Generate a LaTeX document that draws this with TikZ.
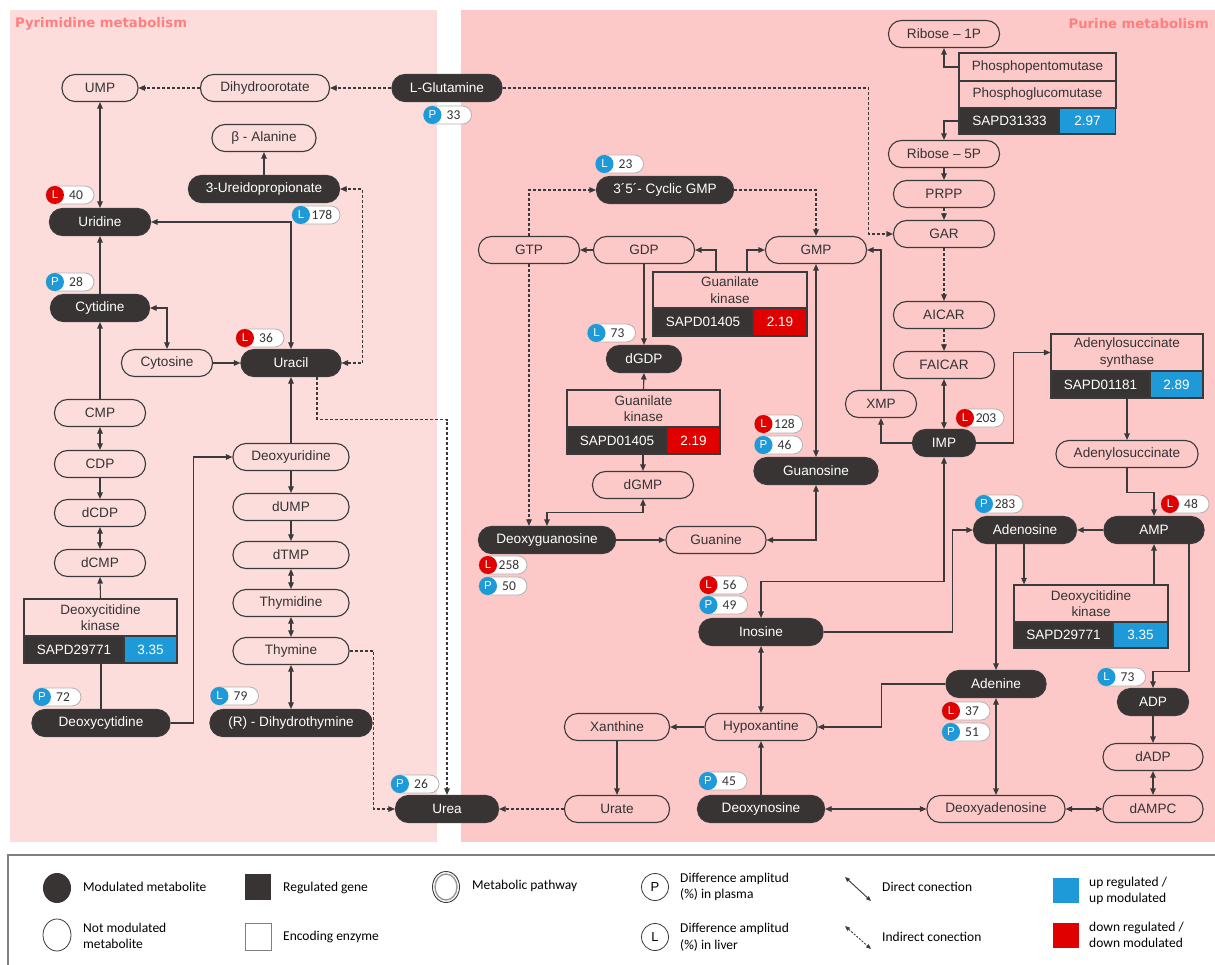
\documentclass[tikz,border=0pt]{standalone}
\usepackage{fontspec}
\setmainfont{Liberation Sans}
\newfontfamily\calfont{Carlito}
\newfontfamily\ttlfont{DejaVu Sans}
\usetikzlibrary{arrows.meta,calc,shapes.geometric}
\definecolor{bgL}{HTML}{FDDCDC}
\definecolor{bgR}{HTML}{FDC8C8}
\definecolor{ttl}{HTML}{FF7F7F}
\definecolor{dk}{HTML}{383434}
\definecolor{ln}{HTML}{3A3A3A}
\definecolor{upb}{HTML}{1E9AD8}
\definecolor{dnr}{HTML}{E00000}
\definecolor{txt}{HTML}{333333}
\newcommand\mybadge[6]{%
  \node[bdg] (#1) at (#2,#3) {};
  \node[bdgc, fill=#5] (#1c) at ({#2-15},#3) {#4};
  \node[bdgn] (#1n) at ({#2+6},#3) {#6};
}
\begin{document}
\begin{tikzpicture}[x=1pt,y=-1pt,
  met/.style={draw=ln, line width=1.1pt, rounded corners=13pt, minimum height=27pt, inner sep=0pt, text=txt, font=\fontsize{13.6}{15}\selectfont},
  lmet/.style={met},
  dmet/.style={met, fill=dk, text=white},
  enzt/.style={draw=ln, line width=1.1pt, inner sep=0pt, align=center, text=txt, font=\fontsize{13.5}{16.5}\selectfont},
  geneg/.style={draw=ln, line width=1.1pt, fill=dk, inner sep=0pt, text=white, font=\fontsize{13.5}{15}\selectfont},
  con/.style={draw=ln, line width=1.1pt},
  cArr/.style={con, -{Triangle[length=6.5pt,width=5.5pt]}},
  cDbl/.style={con, {Triangle[length=6.5pt,width=5.5pt]}-{Triangle[length=6.5pt,width=5.5pt]}},
  cDash/.style={cArr, dash pattern=on 3pt off 2pt},
  cDashDbl/.style={cDbl, dash pattern=on 3pt off 2pt},
  bdg/.style={draw=gray!60, fill=white, line width=0.8pt, rounded corners=9pt, minimum width=48pt, minimum height=18pt, inner sep=0pt},
  bdgc/.style={circle, minimum size=18pt, inner sep=0pt, text=white, font=\fontsize{11.5}{12}\selectfont},
  bdgn/.style={font=\calfont\fontsize{13.5}{14}\selectfont, text=txt, inner sep=0pt},
  ttlstyle/.style={font=\ttlfont\bfseries\fontsize{13.2}{15}\selectfont, text=ttl, inner sep=0pt},
  legt/.style={font=\calfont\fontsize{13.5}{16.5}\selectfont, text=black, inner sep=0pt, anchor=west, align=left}
]
\fill[white] (0,0) rectangle (1215,965);
\useasboundingbox (0,0) rectangle (1215,965);
\fill[bgL] (10,10) rectangle (437,842);
\fill[bgR] (461,10) rectangle (1215,842);
\node[ttlstyle, anchor=west] (tPy) at (15,24) {Pyrimidine metabolism};
\node[ttlstyle, anchor=east] (tPu) at (1209,24) {Purine metabolism};

% ---------- Pyrimidine nodes
\node[lmet, minimum width=76pt] (UMP) at (100,88) {UMP};
\node[lmet, minimum width=129pt] (DHO) at (265,88) {Dihydroorotate};
\node[dmet, minimum width=110pt] (LGlu) at (447,88) {L-Glutamine};
\node[lmet, minimum width=104pt] (bAla) at (264,138) {β - Alanine};
\node[dmet, minimum width=151pt] (Ure) at (264,189) {3-Ureidopropionate};
\node[dmet, minimum width=101pt] (Urid) at (100,222) {Uridine};
\node[dmet, minimum width=99pt] (Cytd) at (100,308) {Cytidine};
\node[lmet, minimum width=91pt] (Cyto) at (167,363) {Cytosine};
\node[dmet, minimum width=100pt] (Urac) at (291,363) {Uracil};
\node[lmet, minimum width=91pt] (CMP) at (100,413) {CMP};
\node[lmet, minimum width=91pt] (CDP) at (100,464) {CDP};
\node[lmet, minimum width=91pt] (dCDP) at (100,513) {dCDP};
\node[lmet, minimum width=91pt] (dCMP) at (100,563) {dCMP};
\node[dmet, minimum width=138pt] (dCyd) at (101,723) {Deoxycytidine};
\node[lmet, minimum width=116pt] (dUrd) at (291,457) {Deoxyuridine};
\node[lmet, minimum width=116pt] (dUMP) at (291,507) {dUMP};
\node[lmet, minimum width=116pt] (dTMP) at (291,555) {dTMP};
\node[lmet, minimum width=116pt] (Thyd) at (291,603) {Thymidine};
\node[lmet, minimum width=116pt] (Thy) at (291,651) {Thymine};
\node[dmet, minimum width=162pt] (DHT) at (291,723) {(R) - Dihydrothymine};
\node[dmet, minimum width=103pt] (Urea) at (447,809) {Urea};

% enzyme 1
\node[enzt, minimum width=153pt, minimum height=37pt] (e1t) at (100.5,617.5) {Deoxycitidine\\kinase};
\node[geneg, minimum width=100pt, minimum height=27pt] (e1g) at (74,649.5) {SAPD29771};
\node[geneg, fill=upb, minimum width=53pt, minimum height=27pt] (e1v) at (150.5,649.5) {3.35};

% ---------- Purine nodes
\node[lmet, minimum width=111pt] (R1P) at (944,34) {Ribose – 1P};
\node[lmet, minimum width=111pt] (R5P) at (944,154) {Ribose – 5P};
\node[lmet, minimum width=101pt] (PRPP) at (944,194) {PRPP};
\node[lmet, minimum width=101pt] (GAR) at (944,234) {GAR};
\node[lmet, minimum width=101pt] (AICAR) at (944,315) {AICAR};
\node[lmet, minimum width=101pt] (FAICAR) at (944,365) {FAICAR};
\node[lmet, minimum width=71pt] (XMP) at (881,404) {XMP};
\node[dmet, minimum width=63pt] (IMP) at (944,443) {IMP};
\node[lmet, minimum width=142pt] (AdS) at (1127,454) {Adenylosuccinate};
\node[dmet, minimum width=137pt] (cGMP) at (665,190) {3´5´- Cyclic GMP};
\node[lmet, minimum width=101pt] (GTP) at (529,250) {GTP};
\node[lmet, minimum width=101pt] (GDP) at (644,250) {GDP};
\node[lmet, minimum width=101pt] (GMP) at (816,250) {GMP};
\node[dmet, minimum width=75pt] (dGDP) at (644,359) {dGDP};
\node[lmet, minimum width=101pt] (dGMP) at (643,485) {dGMP};
\node[dmet, minimum width=124pt] (Guo) at (816,471) {Guanosine};
\node[dmet, minimum width=137pt] (dGuo) at (547,540) {Deoxyguanosine};
\node[lmet, minimum width=100pt] (Gua) at (716,540) {Guanine};
\node[dmet, minimum width=124pt] (Ino) at (761,632) {Inosine};
\node[lmet, minimum width=105pt] (Xan) at (617,727) {Xanthine};
\node[lmet, minimum width=112pt] (Hyp) at (761,727) {Hypoxantine};
\node[lmet, minimum width=105pt] (Urate) at (617,809) {Urate};
\node[dmet, minimum width=127pt] (dIno) at (761,809) {Deoxynosine};
\node[dmet, minimum width=103pt] (Ado) at (1025,530) {Adenosine};
\node[dmet, minimum width=100pt] (AMP) at (1154,530) {AMP};
\node[dmet, minimum width=100pt] (Ade) at (996,684) {Adenine};
\node[dmet, minimum width=71pt] (ADP) at (1153,702) {ADP};
\node[lmet, minimum width=100pt] (dADP) at (1153,757) {dADP};
\node[lmet, minimum width=100pt] (dAMPC) at (1153,809) {dAMPC};
\node[lmet, minimum width=138pt] (dAdo) at (996,809) {Deoxyadenosine};

% enzyme 2
\node[enzt, minimum width=157pt, minimum height=28pt] (e2a) at (1037.5,67) {Phosphopentomutase};
\node[enzt, minimum width=157pt, minimum height=27pt] (e2b) at (1037.5,94.5) {Phosphoglucomutase};
\node[geneg, minimum width=101pt, minimum height=26pt] (e2g) at (1009.5,121) {SAPD31333};
\node[geneg, fill=upb, minimum width=56pt, minimum height=26pt] (e2v) at (1087.5,121) {2.97};
% enzyme 3
\node[enzt, minimum width=154pt, minimum height=36pt] (e3t) at (730,290) {Guanilate\\kinase};
\node[geneg, minimum width=100pt, minimum height=28pt] (e3g) at (703,322) {SAPD01405};
\node[geneg, fill=dnr, minimum width=54pt, minimum height=28pt] (e3v) at (780,322) {2.19};
% enzyme 4
\node[enzt, minimum width=153pt, minimum height=37pt] (e4t) at (643.5,408.5) {Guanilate\\kinase};
\node[geneg, minimum width=100pt, minimum height=27pt] (e4g) at (617,440.5) {SAPD01405};
\node[geneg, fill=dnr, minimum width=53pt, minimum height=27pt] (e4v) at (693.5,440.5) {2.19};
% enzyme 5
\node[enzt, minimum width=152pt, minimum height=37pt] (e5t) at (1127,352.5) {Adenylosuccinate\\synthase};
\node[geneg, minimum width=99pt, minimum height=27pt] (e5g) at (1100.5,384.5) {SAPD01181};
\node[geneg, fill=upb, minimum width=53pt, minimum height=27pt] (e5v) at (1176.5,384.5) {2.89};
% enzyme 6
\node[enzt, minimum width=154pt, minimum height=37pt] (e6t) at (1091,603.5) {Deoxycitidine\\kinase};
\node[geneg, minimum width=99pt, minimum height=26pt] (e6g) at (1063.5,635) {SAPD29771};
\node[geneg, fill=upb, minimum width=55pt, minimum height=26pt] (e6v) at (1140.5,635) {3.35};

% ---------- Pyrimidine connectors
\draw[cDash] (DHO.west) -- (UMP.east);
\draw[cDash] (LGlu.west) -- (DHO.east);
\draw[cDbl] (UMP.south) -- (Urid.north);
\draw[cArr] (Ure.north) -- (bAla.south);
\draw[cDashDbl] (Urac.east) -- ++(21,0) |- (Ure.east);
\draw[cDbl] (Urid.east) -| (Urac.north);
\draw[cArr] (CMP.north) -- (Cytd.south);
\draw[cArr] (Cytd.north) -- (Urid.south);
\draw[cDbl] (Cytd.east) -| (Cyto.north);
\draw[cArr] (Cyto.east) -- (Urac.west);
\draw[cDbl] (CMP.south) -- (CDP.north);
\draw[cArr] (CDP.south) -- (dCDP.north);
\draw[cDbl] (dCDP.south) -- (dCMP.north);
\draw[cArr] (e1t.north) -- (dCMP.south);
\draw[con] (dCyd.north) -- (dCyd.north |- e1g.south);
\draw[cArr] (dCyd.east) -- ++(23,0) |- (dUrd.west);
\draw[cArr] (dUrd.north) -- (Urac.south);
\draw[cArr] (dUrd.south) -- (dUMP.north);
\draw[cArr] (dUMP.south) -- (dTMP.north);
\draw[cDbl] (dTMP.south) -- (Thyd.north);
\draw[cDbl] (Thyd.south) -- (Thy.north);
\draw[cDbl] (Thy.south) -- (DHT.north);
\draw[cDash] (Thy.east) -- ++(24,0) |- (Urea.west);
\draw[cDash] ([xshift=26pt]Urac.south) -- ++(0,42.5) -| (Urea.north);

% ---------- Purine connectors
\draw[cDash] (LGlu.east) -- ++(366,0) |- (GAR.west);
\draw[cArr] (e2a.west) -| (R1P.south);
\draw[cArr] (e2g.west) -| (R5P.north);
\draw[cArr] (R5P.south) -- (PRPP.north);
\draw[cDash] (PRPP.south) -- (GAR.north);
\draw[cDash] (GAR.south) -- (AICAR.north);
\draw[cDash] (AICAR.south) -- (FAICAR.north);
\draw[cDbl] (FAICAR.south) -- (IMP.north);
\draw[cArr] (IMP.west) -| (XMP.south);
\draw[cArr] (XMP.north) |- (GMP.east);
\draw[cArr] (IMP.east) -- ++(37,0) |- (e5t.west);
\draw[cArr] (AdS.north |- e5g.south) -- (AdS.north);
\draw[cArr] (AdS.south) -- ++(0,24.5) -| (AMP.north);
\draw[cDash] (GTP.north) |- (cGMP.west);
\draw[cDash] (cGMP.east) -| (GMP.north);
\draw[cArr] (GDP.west) -- (GTP.east);
\draw[cArr] ([xshift=-14pt]e3t.north) |- (GDP.east);
\draw[cArr] ([xshift=17pt]e3t.north) |- (GMP.west);
\draw[cArr] (GDP.south) -- (dGDP.north);
\draw[cArr] (e4t.north) -- (dGDP.south);
\draw[cArr] (dGMP.north |- e4g.south) -- (dGMP.north);
\draw[cDbl] (GMP.south) -- (Guo.north);
\draw[cDash] (GTP.south) -- (GTP.south |- dGuo.north);
\draw[cDbl] (dGMP.south) -- ++(0,13.5) -| (dGuo.north);
\draw[cArr] (dGuo.east) -- (Gua.west);
\draw[cDbl] (Guo.south) |- (Gua.east);
\draw[cDbl] (IMP.south) -- ++(0,124.5) -| (Ino.north);
\draw[cArr] (Ino.east) -- ++(129,0) |- (Ado.west);
\draw[cDbl] (Ino.south) -- (Hyp.north);
\draw[cArr] (Hyp.west) -- (Xan.east);
\draw[cArr] (Xan.south) -- (Urate.north);
\draw[cDash] (Urate.west) -- (Urea.east);
\draw[cArr] (dIno.north) -- (Hyp.south);
\draw[cDbl] (dIno.east) -- (dAdo.west);
\draw[cArr] (Ade.west) -- ++(-64,0) |- (Hyp.east);
\draw[cArr] (AMP.west) -- (Ado.east);
\draw[cArr] ([xshift=-29pt]Ado.south) -- (Ade.north);
\draw[cArr] ([xshift=-1pt]Ado.south) -- ([xshift=-1pt]Ado.south |- e6t.north);
\draw[cArr] (AMP.south |- e6t.north) -- (AMP.south);
\draw[cArr] ([xshift=35pt]AMP.south) -- ++(0,127.5) -| (ADP.north);
\draw[cArr] (ADP.south) -- (dADP.north);
\draw[cDbl] (dADP.south) -- (dAMPC.north);
\draw[cDbl] (dAdo.east) -- (dAMPC.west);
\draw[cDbl] (Ade.south) -- (dAdo.north);

% ---------- badges
\mybadge{bP33}{447.5}{115}{P}{upb}{33}
\mybadge{bL40}{70}{195}{L}{dnr}{40}
\mybadge{bL178}{316}{215}{L}{upb}{178}
\mybadge{bP28}{70}{282}{P}{upb}{28}
\mybadge{bL36}{260}{338}{L}{dnr}{36}
\mybadge{bP72}{57}{697}{P}{upb}{72}
\mybadge{bL79}{234.5}{696}{L}{upb}{79}
\mybadge{bP26}{415}{784}{P}{upb}{26}
\mybadge{bL23}{619.5}{164}{L}{upb}{23}
\mybadge{bL73a}{611.5}{333}{L}{upb}{73}
\mybadge{bL128}{778.5}{424}{L}{dnr}{128}
\mybadge{bP46}{778.5}{445}{P}{upb}{46}
\mybadge{bL203}{980}{418}{L}{dnr}{203}
\mybadge{bL258}{503}{565}{L}{dnr}{258}
\mybadge{bP50}{503}{586}{P}{upb}{50}
\mybadge{bL56}{723.5}{585}{L}{dnr}{56}
\mybadge{bP49}{723.5}{605}{P}{upb}{49}
\mybadge{bP45}{723}{781}{P}{upb}{45}
\mybadge{bP283}{999}{504}{P}{upb}{283}
\mybadge{bL48}{1185}{504}{L}{dnr}{48}
\mybadge{bL37}{966}{711}{L}{dnr}{37}
\mybadge{bP51}{966}{732}{P}{upb}{51}
\mybadge{bL73b}{1121.5}{677}{L}{upb}{73}

% ---------- legend
\draw[draw=gray, line width=1.6pt] (8,965) -- (8,855) -- (1215,855);
\node[ellipse, fill=dk, minimum width=28pt, minimum height=30pt, inner sep=0pt] (lgMod) at (57,888) {};
\node[legt] (lgModT) at (83,887) {Modulated metabolite};
\node[ellipse, draw=ln, line width=0.8pt, minimum width=28pt, minimum height=32pt, inner sep=0pt] (lgNot) at (57,935) {};
\node[legt] (lgNotT) at (83,936) {Not modulated\\metabolite};
\node[rectangle, fill=dk, minimum width=26pt, minimum height=26pt, inner sep=0pt] (lgGene) at (258,887) {};
\node[legt] (lgGeneT) at (283,888) {Regulated gene};
\node[rectangle, draw=gray, line width=0.8pt, minimum width=26pt, minimum height=27pt, inner sep=0pt] (lgEnz) at (258,937) {};
\node[legt] (lgEnzT) at (283,937) {Encoding enzyme};
\node[ellipse, draw=ln, line width=0.9pt, minimum width=27pt, minimum height=31pt, inner sep=0pt] (lgPath) at (446,887) {};
\node[ellipse, draw=gray!80, line width=1.4pt, minimum width=22pt, minimum height=26pt, inner sep=0pt] (lgPathIn) at (446,887) {};
\node[legt] (lgPathT) at (472,886) {Metabolic pathway};
\node[circle, draw=ln, line width=0.8pt, minimum size=27pt, inner sep=0pt, font=\fontsize{13}{14}\selectfont] (lgP) at (655,887) {P};
\node[legt] (lgPT) at (680,887) {Difference amplitud\\(\%) in plasma};
\node[circle, draw=ln, line width=0.8pt, minimum size=27pt, inner sep=0pt, font=\fontsize{13}{14}\selectfont] (lgL) at (655,937) {L};
\node[legt] (lgLT) at (680,937) {Difference amplitud\\(\%) in liver};
\coordinate (lgD1) at (845,877);
\coordinate (lgD2) at (871,901);
\coordinate (lgI1) at (845,926);
\coordinate (lgI2) at (871,949);
\draw[con, line width=0.9pt, {Triangle[length=5pt,width=4pt]}-{Triangle[length=5pt,width=4pt]}] (lgD1) -- (lgD2);
\draw[con, line width=0.9pt, dash pattern=on 2pt off 1.5pt, {Triangle[length=5pt,width=4pt]}-{Triangle[length=5pt,width=4pt]}] (lgI1) -- (lgI2);
\node[legt] (lgDT) at (882,887) {Direct conection};
\node[legt] (lgIT) at (882,937) {Indirect conection};
\node[rectangle, fill=upb, minimum width=26pt, minimum height=25pt, inner sep=0pt] (lgUp) at (1066,890) {};
\node[legt] (lgUpT) at (1089,891) {up regulated /\\up modulated};
\node[rectangle, fill=dnr, minimum width=26pt, minimum height=25pt, inner sep=0pt] (lgDn) at (1066,935) {};
\node[legt] (lgDnT) at (1089,935) {down regulated /\\down modulated};
\end{tikzpicture}
\end{document}
